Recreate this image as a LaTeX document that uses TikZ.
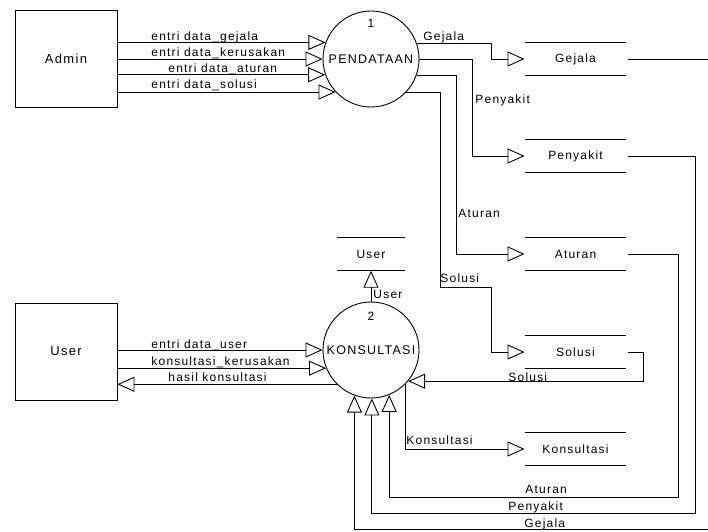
\documentclass[tikz,border=0pt]{standalone}
\usepackage{fontspec}
\setmainfont{Liberation Sans}[LetterSpace=10]
\usetikzlibrary{arrows.meta}
\begin{document}
\begin{tikzpicture}[x=1pt,y=-1pt, line width=0.9pt,
  flow/.style={-{Triangle[open,length=17pt,width=15pt]}},
  entity/.style={draw, minimum width=102pt, minimum height=97pt, inner sep=0pt, font=\fontsize{13}{15}\selectfont},
  proc/.style={draw, circle, minimum size=96pt, inner sep=0pt, font=\fontsize{12.5}{14}\selectfont},
  store/.style={minimum width=101pt, minimum height=32.5pt, inner sep=0pt, font=\fontsize{12}{14}\selectfont},
  lbl/.style={anchor=base west, inner sep=0pt, font=\fontsize{12}{14}\selectfont},
  num/.style={inner sep=0pt, font=\fontsize{12}{14}\selectfont}]
\useasboundingbox (0,0) rectangle (708,531);

% entities
\node[entity] (admin) at (66,58.5) {Admin};
\node[entity] (user) at (66,351.5) {User};

% processes
\node[proc] (p1) at (371,59) {PENDATAAN};
\node[proc] (p2) at (371,350) {KONSULTASI};
\node[num] (n1) at (371,23) {1};
\node[num] (n2) at (371,316) {2};

% stores
\node[store] (sg) at (575.5,59) {Gejala};
\node[store] (sp) at (575.5,156) {Penyakit};
\node[store] (sa) at (575.5,254) {Aturan};
\node[store] (ss) at (575.5,352) {Solusi};
\node[store] (sk) at (575.5,449) {Konsultasi};
\node[store, minimum width=68pt] (su) at (371,254) {User};
\foreach \s in {sg,sp,sa,ss,sk,su}
  \draw (\s.north west) -- (\s.north east) (\s.south west) -- (\s.south east);

% admin -> pendataan
\draw[flow] (admin.east |- p1.160.5) -- (p1.160.5);
\draw[flow] (admin.east |- p1.west) -- (p1.west);
\draw[flow] (admin.east |- p1.199.5) -- (p1.199.5);
\draw[flow] (admin.east |- p1.223.4) -- (p1.223.4);
\node[lbl] (l1) at (151,40.5) {entri data\_gejala};
\node[lbl] (l2) at (151,56.5) {entri data\_kerusakan};
\node[lbl] (l3) at (168,72.5) {entri data\_aturan};
\node[lbl] (l4) at (151,88.5) {entri data\_solusi};

% pendataan -> stores
\draw[flow] (p1.19.5) -| ([xshift=-33pt]sg.west) -- (sg.west);
\draw[flow] (p1.east) -| ([xshift=-52pt]sp.west) -- (sp.west);
\draw[flow] (p1.340.5) -| ([xshift=-68pt]sa.west) -- (sa.west);
\coordinate (sb) at (440,287);
\draw[flow] (p1.316.6) -| (sb) -| ([xshift=-33pt]ss.west) -- (ss.west);
\node[lbl] (lg) at (423,40) {Gejala};
\node[lbl] (lp) at (475,103) {Penyakit};
\node[lbl] (la) at (458,217) {Aturan};
\node[lbl] (ls) at (440,282) {Solusi};

% user <-> konsultasi
\draw[flow] (user.east |- p2.west) -- (p2.west);
\draw[flow] (user.east |- p2.202) -- (p2.202);
\draw[flow] (p2.225) -- (user.east |- p2.225);
\node[lbl] (l5) at (151,348.5) {entri data\_user};
\node[lbl] (l6) at (151,365.5) {konsultasi\_kerusakan};
\node[lbl] (l7) at (168,381.5) {hasil konsultasi};

% konsultasi -> user store
\draw[flow] (p2.north) -- (su.south);
\node[lbl] (lu) at (373,298) {User};

% konsultasi -> konsultasi store
\draw[flow] (p2.315) |- (sk.west);
\node[lbl] (lk) at (406,444) {Konsultasi};

% stores -> konsultasi
\coordinate (rs) at (643,0);
\draw[flow] ([xshift=2pt]ss.east) -| (rs |- p2.320) -- (p2.320);
\node[lbl] (lrs) at (508,381) {Solusi};
\coordinate (ra) at (678,497);
\draw[flow] ([xshift=2pt]sa.east) -| (ra) -| (p2.292);
\node[lbl] (lra) at (525,493) {Aturan};
\coordinate (rp) at (695,513);
\draw[flow] ([xshift=2pt]sp.east) -| (rp) -| (p2.271);
\node[lbl] (lrp) at (508,510) {Penyakit};
\coordinate (rg) at (713,529);
\draw[flow] ([xshift=2pt]sg.east) -| (rg) -| (p2.250.5);
\node[lbl] (lrg) at (524,527) {Gejala};
\end{tikzpicture}
\end{document}
